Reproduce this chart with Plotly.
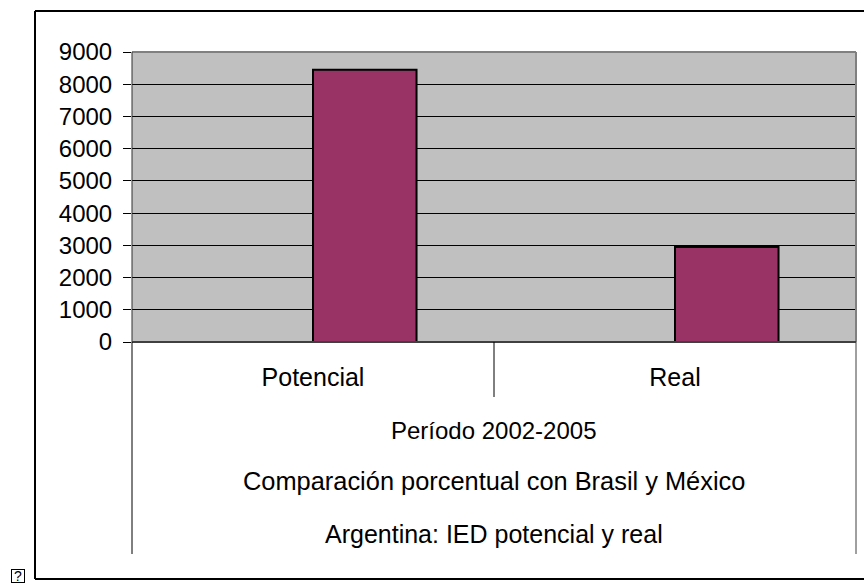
import plotly.graph_objects as go

categories = ["Potencial", "Real"]
values = [8450, 2950]
y_ticks = [0, 1000, 2000, 3000, 4000, 5000, 6000, 7000, 8000, 9000]
group_labels = [
    "Período 2002-2005",
    "Comparación porcentual con Brasil y México",
    "Argentina: IED potencial y real",
]
group_label_sizes = [24, 25.4, 25]
group_label_centres = [430, 481, 534]

W, H = 864, 583
LEFT, RIGHT, TOP, BOTTOM = 132, 856, 52, 342
FONT = "Liberation Sans"
TICK_SIZE = 24
LABEL_SIZE = 25


def fx(x):
    return (x - LEFT) / (RIGHT - LEFT)


def fy(y):
    return (BOTTOM - y) / (BOTTOM - TOP)


# Each bar starts at its category centre and extends to the right
fig = go.Figure(
    go.Bar(
        x=categories,
        y=values,
        width=0.286,
        offset=0,
        marker=dict(color="#993366", line=dict(color="#000000", width=2)),
    )
)

fig.update_layout(
    width=W,
    height=H,
    autosize=False,
    showlegend=False,
    paper_bgcolor="#ffffff",
    plot_bgcolor="#c0c0c0",
    margin=dict(l=LEFT, r=W - RIGHT, t=TOP, b=H - BOTTOM, pad=0),
    font=dict(family=FONT, size=TICK_SIZE, color="#000000"),
)

fig.update_yaxes(
    range=[0, 9000],
    tickmode="array",
    tickvals=y_ticks,
    ticks="outside",
    ticklen=8,
    tickwidth=1,
    tickcolor="#000000",
    tickfont=dict(family=FONT, size=TICK_SIZE),
    showgrid=True,
    gridcolor="#000000",
    gridwidth=1,
    showline=False,
    zeroline=False,
    ticklabelstandoff=6,
)
fig.update_xaxes(
    type="category",
    range=[-0.5, 1.5],
    ticks="",
    tickfont=dict(family=FONT, size=LABEL_SIZE),
    showgrid=False,
    showline=False,
    zeroline=False,
    ticklabelstandoff=18,
)

# Frame around the chart (open on the right), plot-area edges and level separators
segments = [
    (35, 11, W, 11, 2, "#000000"),
    (35, 11, 35, 579, 2, "#000000"),
    (35, 579, W, 579, 2, "#000000"),
    (LEFT, TOP, RIGHT, TOP, 2, "#808080"),
    (RIGHT, TOP, RIGHT, BOTTOM, 2, "#808080"),
    (LEFT, TOP, LEFT, BOTTOM, 1, "#303030"),
    (LEFT, BOTTOM, RIGHT, BOTTOM, 2, "#404040"),
    (LEFT, BOTTOM, LEFT, 554, 1, "#000000"),
    (494, BOTTOM, 494, 397, 1, "#000000"),
    (RIGHT, BOTTOM, RIGHT, 554, 1, "#404040"),
]
for x0, y0, x1, y1, lw, colour in segments:
    fig.add_shape(
        type="line",
        xref="paper",
        yref="paper",
        x0=fx(x0),
        x1=fx(x1),
        y0=fy(y0),
        y1=fy(y1),
        line=dict(color=colour, width=lw),
        layer="above",
    )

# Outer category levels below the axis
for label, size, centre_y in zip(group_labels, group_label_sizes, group_label_centres):
    fig.add_annotation(
        text=label,
        xref="paper",
        yref="paper",
        x=0.5,
        y=fy(centre_y),
        xanchor="center",
        yanchor="middle",
        showarrow=False,
        font=dict(family=FONT, size=size, color="#000000"),
    )

# Small boxed glyph at the lower-left corner
fig.add_annotation(
    text="?",
    xref="paper",
    yref="paper",
    x=fx(17.5),
    y=fy(576),
    xanchor="center",
    yanchor="middle",
    width=12,
    height=12,
    showarrow=False,
    borderwidth=1,
    bordercolor="#000000",
    borderpad=0,
    font=dict(family="Liberation Sans", size=14, color="#000000"),
)

fig.write_html("out.html")
